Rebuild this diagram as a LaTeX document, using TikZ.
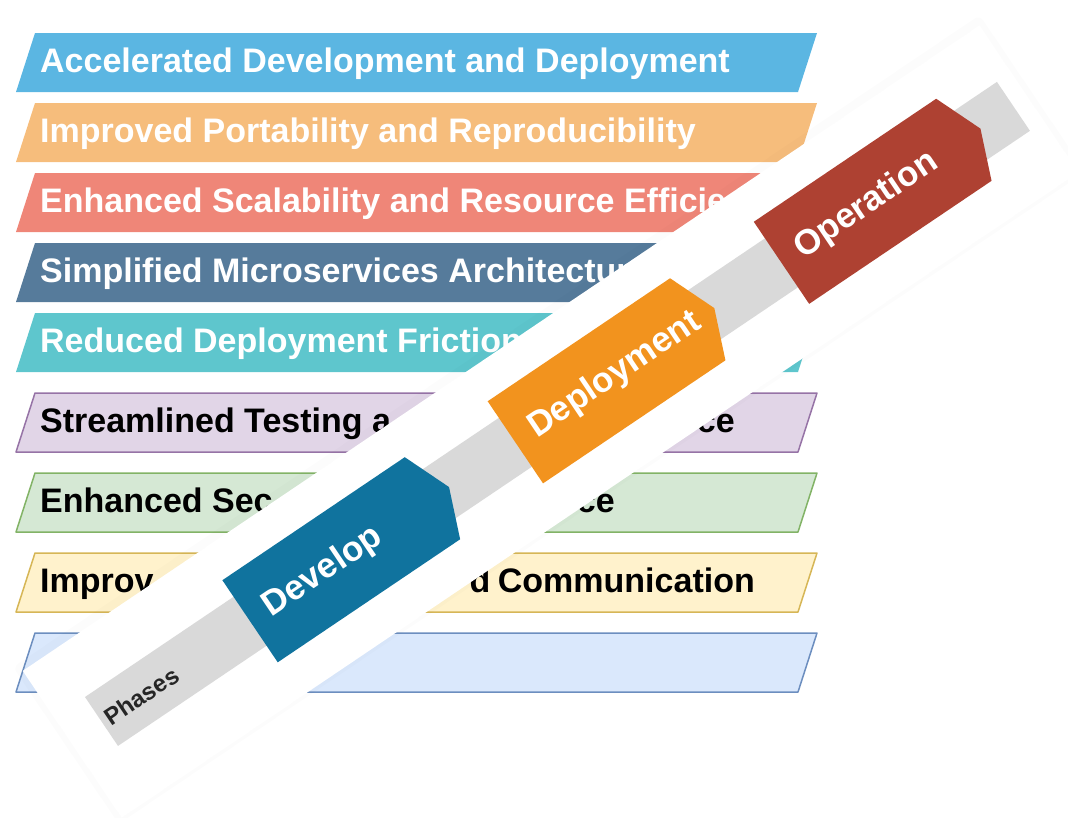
\documentclass[tikz,border=0pt]{standalone}
\usepackage{fontspec}
\setmainfont{Liberation Sans}
\usetikzlibrary{shapes.geometric,shapes.symbols}

\definecolor{accblue}{HTML}{5BB6E2}
\definecolor{portpeach}{HTML}{F6BD7C}
\definecolor{scalered}{HTML}{EF8678}
\definecolor{microslate}{HTML}{567B9B}
\definecolor{fricteal}{HTML}{5EC6CD}
\definecolor{testfill}{HTML}{E1D5E7}
\definecolor{testline}{HTML}{9673A6}
\definecolor{secfill}{HTML}{D5E8D4}
\definecolor{secline}{HTML}{82B366}
\definecolor{collfill}{HTML}{FFF2CC}
\definecolor{collline}{HTML}{D6B656}
\definecolor{lastfill}{HTML}{DAE8FC}
\definecolor{lastline}{HTML}{6C8EBF}
\definecolor{devblue}{HTML}{10739E}
\definecolor{deporange}{HTML}{F2931E}
\definecolor{opred}{HTML}{AE4132}
\definecolor{bandgray}{HTML}{D9D9D9}

\begin{document}
\begin{tikzpicture}[x=1pt,y=-1pt]

  \tikzstyle{pale}=[line width=1.5pt,line join=round]
  \tikzstyle{btext}=[inner sep=0pt,font=\fontsize{34}{38}\selectfont\bfseries]
  \tikzstyle{panel}=[rectangle,fill=white,minimum width=1154,minimum height=177,inner sep=0pt]
  \tikzstyle{band}=[rectangle,fill=bandgray,minimum width=1100,minimum height=59,inner sep=0pt]
  \tikzstyle{phase}=[signal,signal to=east,signal pointer angle=136,text width=180,align=left,inner xsep=20,inner ysep=0pt,minimum height=99,text=white,font=\fontsize{35}{38}\selectfont\bfseries]

  \useasboundingbox (0,0) rectangle (1068,817);
  \clip (0,0) rectangle (1068,817);

  % benefit banners, slanted 19 over 59
  \fill[accblue]    (16,92)  -- (35,33)  -- (817,33)  -- (798,92)  -- cycle;
  \fill[portpeach]  (16,162) -- (35,103) -- (817,103) -- (798,162) -- cycle;
  \fill[scalered]   (16,232) -- (35,173) -- (817,173) -- (798,232) -- cycle;
  \fill[microslate] (16,302) -- (35,243) -- (817,243) -- (798,302) -- cycle;
  \fill[fricteal]   (16,372) -- (35,313) -- (817,313) -- (798,372) -- cycle;
  \filldraw[pale,fill=testfill,draw=testline] (16,452) -- (35,393) -- (817,393) -- (798,452) -- cycle;
  \filldraw[pale,fill=secfill,draw=secline]   (16,532) -- (35,473) -- (817,473) -- (798,532) -- cycle;
  \filldraw[pale,fill=collfill,draw=collline] (16,612) -- (35,553) -- (817,553) -- (798,612) -- cycle;
  \filldraw[pale,fill=lastfill,draw=lastline] (16,692) -- (35,633) -- (817,633) -- (798,692) -- cycle;

  \node[btext,white,anchor=base west] (t1) at (40,72)  {Accelerated Development and Deployment};
  \node[btext,white,anchor=base west] (t2) at (40,142) {Improved Portability and Reproducibility};
  \node[btext,white,anchor=base west] (t3) at (40,212) {Enhanced Scalability and Resource Efficie};
  \node[btext,white,anchor=base west] (t4) at (40,282) {Simplified Microservices Architectur};
  \node[btext,white,anchor=base west] (t5) at (40,352) {Reduced Deployment Friction};
  \node[btext,anchor=base west] (t6) at (40,432) {Streamlined Testing a};
  \node[btext,anchor=base east] (t6r) at (735,432) {ce};
  \node[btext,anchor=base west] (t7) at (40,512) {Enhanced Sec};
  \node[btext,anchor=base east] (t7r) at (615,512) {ce};
  \node[btext,anchor=base west] (t8) at (40,592) {Improv};
  \node[btext,anchor=base east] (t8r) at (755,592) {d\hspace{-2pt} Communication};

  % tilted phases strip
  \begin{scope}[shift={(85,697)},rotate=34,transform shape]
    \fill[black,opacity=.012,rounded corners=6] (-43,-65) rectangle (1123,124);
    \node[panel] (panel) at (540,32) {};
    \node[band]  (band)  at (550,29.5) {};

    \node[anchor=west,inner sep=0pt,text=black!85,font=\fontsize{24}{26}\selectfont\bfseries] (ph) at (5,31) {Phases};
    \node[phase,fill=devblue,anchor=west]   (dev) at (179,29.5) {Develop};
    \node[phase,fill=deporange,anchor=west] (dep) at (499,29.5) {Deployment};
    \node[phase,fill=opred,anchor=west]     (op)  at (820,29.5) {Operation};
  \end{scope}

\end{tikzpicture}
\end{document}
